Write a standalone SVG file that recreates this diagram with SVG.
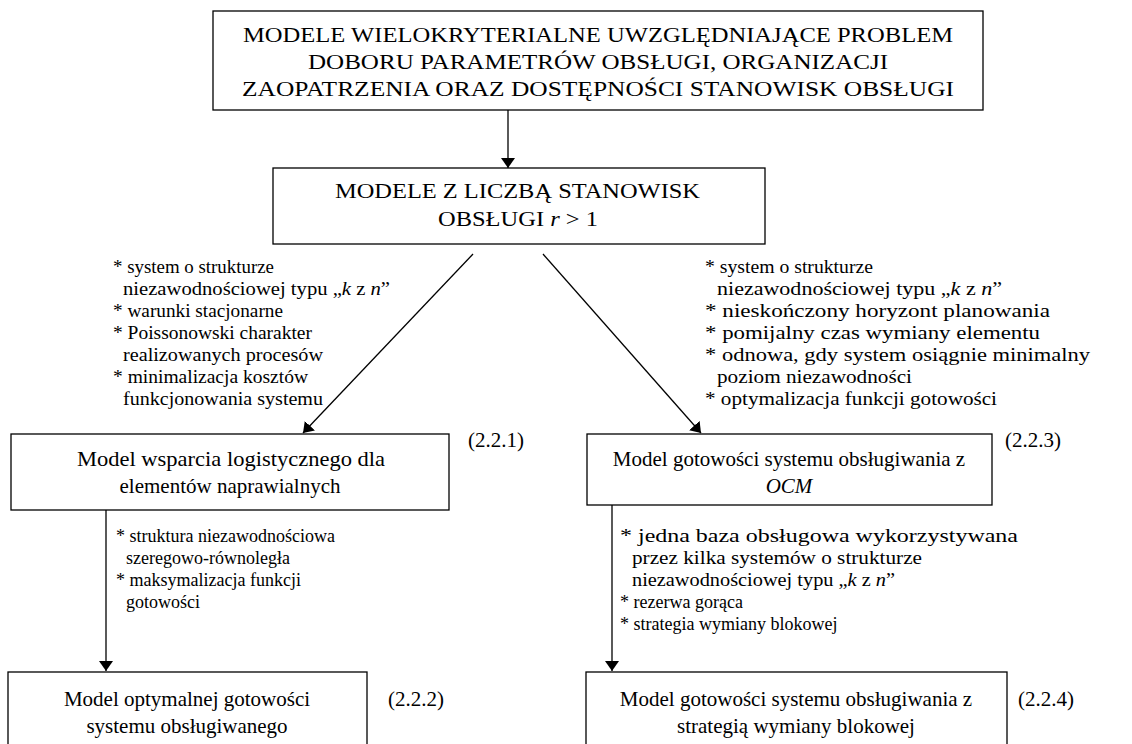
<svg xmlns="http://www.w3.org/2000/svg" width="1132" height="744" viewBox="0 0 1132 744">
  <style>
    text { font-family: "Liberation Serif", "Times New Roman", serif; fill: #000000; }
    .box { fill: #ffffff; stroke: #000000; stroke-width: 1.3; }
    .bt { font-size: 21px; text-anchor: middle; }
    .cap { font-size: 21px; }
    .note { font-size: 18px; }
    .num { font-size: 21px; }
    .edge { stroke: #000000; stroke-width: 1.3; fill: none; marker-end: url(#arrow); }
  </style>
  <defs>
    <marker id="arrow" viewBox="0 0 10 14" refX="10" refY="7" markerWidth="10" markerHeight="14" markerUnits="userSpaceOnUse" orient="auto">
      <path d="M0,0 L10,7 L0,14 Z" fill="#000000"/>
    </marker>
  </defs>

  <rect width="1132" height="744" fill="#ffffff"/>

  <!-- connectors -->
  <g id="connectors">
    <line class="edge" x1="508" y1="110" x2="508" y2="168"/>
    <line class="edge" x1="473" y1="254" x2="303" y2="433"/>
    <line class="edge" x1="543" y1="254" x2="701" y2="433"/>
    <line class="edge" x1="106" y1="510" x2="106" y2="671"/>
    <line class="edge" x1="612" y1="505" x2="612" y2="671"/>
  </g>

  <!-- top node -->
  <g id="node-multicriteria">
    <rect class="box" x="213" y="11" width="770" height="99"/>
    <text class="cap" x="243" y="42" textLength="710" lengthAdjust="spacingAndGlyphs">MODELE WIELOKRYTERIALNE UWZGLĘDNIAJĄCE PROBLEM</text>
    <text class="cap" x="308" y="69" textLength="580" lengthAdjust="spacingAndGlyphs">DOBORU PARAMETRÓW OBSŁUGI, ORGANIZACJI</text>
    <text class="cap" x="242" y="96" textLength="712" lengthAdjust="spacingAndGlyphs">ZAOPATRZENIA ORAZ DOSTĘPNOŚCI STANOWISK OBSŁUGI</text>
  </g>

  <!-- second level node -->
  <g id="node-stations">
    <rect class="box" x="273" y="168" width="492" height="76"/>
    <text class="cap" x="335" y="198" textLength="365" lengthAdjust="spacingAndGlyphs">MODELE Z LICZBĄ STANOWISK</text>
    <text class="cap" x="438" y="226" textLength="160" lengthAdjust="spacingAndGlyphs">OBSŁUGI <tspan font-style="italic">r</tspan> &gt; 1</text>
  </g>

  <!-- assumptions, left branch -->
  <g id="notes-left">
    <text class="note" x="113" y="273" textLength="161" lengthAdjust="spacingAndGlyphs">* system o strukturze</text>
    <text class="note" x="123" y="295" textLength="267" lengthAdjust="spacingAndGlyphs">niezawodnościowej typu „<tspan font-style="italic">k</tspan> z <tspan font-style="italic">n</tspan>”</text>
    <text class="note" x="113" y="317" textLength="170" lengthAdjust="spacingAndGlyphs">* warunki stacjonarne</text>
    <text class="note" x="113" y="339" textLength="199" lengthAdjust="spacingAndGlyphs">* Poissonowski charakter</text>
    <text class="note" x="123" y="361" textLength="200" lengthAdjust="spacingAndGlyphs">realizowanych procesów</text>
    <text class="note" x="113" y="383" textLength="195" lengthAdjust="spacingAndGlyphs">* minimalizacja kosztów</text>
    <text class="note" x="123" y="405" textLength="200" lengthAdjust="spacingAndGlyphs">funkcjonowania systemu</text>
  </g>

  <!-- assumptions, right branch -->
  <g id="notes-right">
    <text class="note" x="705" y="273" textLength="168" lengthAdjust="spacingAndGlyphs">* system o strukturze</text>
    <text class="note" x="717" y="295" textLength="285" lengthAdjust="spacingAndGlyphs">niezawodnościowej typu „<tspan font-style="italic">k</tspan> z <tspan font-style="italic">n</tspan>”</text>
    <text class="note" x="705" y="317" textLength="345" lengthAdjust="spacingAndGlyphs">* nieskończony horyzont planowania</text>
    <text class="note" x="705" y="339" textLength="335" lengthAdjust="spacingAndGlyphs">* pomijalny czas wymiany elementu</text>
    <text class="note" x="705" y="361" textLength="385" lengthAdjust="spacingAndGlyphs">* odnowa, gdy system osiągnie minimalny</text>
    <text class="note" x="717" y="383" textLength="195" lengthAdjust="spacingAndGlyphs">poziom niezawodności</text>
    <text class="note" x="705" y="405" textLength="292" lengthAdjust="spacingAndGlyphs">* optymalizacja funkcji gotowości</text>
  </g>

  <!-- model 2.2.1 -->
  <g id="node-221">
    <rect class="box" x="11" y="434" width="438" height="76"/>
    <text class="bt" x="231" y="466" textLength="308" lengthAdjust="spacingAndGlyphs">Model wsparcia logistycznego dla</text>
    <text class="bt" x="230" y="493">elementów naprawialnych</text>
    <text class="num" x="468" y="447">(2.2.1)</text>
  </g>

  <!-- model 2.2.3 -->
  <g id="node-223">
    <rect class="box" x="587" y="434" width="405" height="71"/>
    <text class="bt" x="789" y="466">Model gotowości systemu obsługiwania z</text>
    <text class="bt" x="789" y="493" font-style="italic">OCM</text>
    <text class="num" x="1005" y="447">(2.2.3)</text>
  </g>

  <!-- assumptions under 2.2.1 -->
  <g id="notes-221">
    <text class="note" x="116" y="542">* struktura niezawodnościowa</text>
    <text class="note" x="126" y="564">szeregowo-równoległa</text>
    <text class="note" x="116" y="586">* maksymalizacja funkcji</text>
    <text class="note" x="126" y="608">gotowości</text>
  </g>

  <!-- assumptions under 2.2.3 -->
  <g id="notes-223">
    <text class="note" x="620" y="542" textLength="398" lengthAdjust="spacingAndGlyphs">* jedna baza obsługowa wykorzystywana</text>
    <text class="note" x="632" y="564" textLength="290" lengthAdjust="spacingAndGlyphs">przez kilka systemów o strukturze</text>
    <text class="note" x="632" y="586" textLength="263" lengthAdjust="spacingAndGlyphs">niezawodnościowej typu „<tspan font-style="italic">k</tspan> z <tspan font-style="italic">n</tspan>”</text>
    <text class="note" x="620" y="608">* rezerwa gorąca</text>
    <text class="note" x="620" y="630">* strategia wymiany blokowej</text>
  </g>

  <!-- model 2.2.2 -->
  <g id="node-222">
    <rect class="box" x="8" y="672" width="359" height="80"/>
    <text class="bt" x="187" y="706">Model optymalnej gotowości</text>
    <text class="bt" x="187" y="733">systemu obsługiwanego</text>
    <text class="num" x="388" y="706">(2.2.2)</text>
  </g>

  <!-- model 2.2.4 -->
  <g id="node-224">
    <rect class="box" x="586" y="672" width="421" height="80"/>
    <text class="bt" x="796" y="706">Model gotowości systemu obsługiwania z</text>
    <text class="bt" x="796" y="733">strategią wymiany blokowej</text>
    <text class="num" x="1018" y="706">(2.2.4)</text>
  </g>
</svg>
